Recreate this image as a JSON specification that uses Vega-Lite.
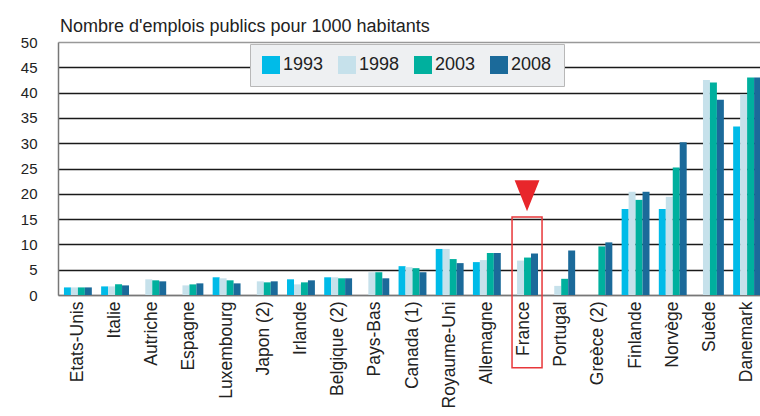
{
  "$schema": "https://vega.github.io/schema/vega-lite/v6.json",
  "autosize": "none",
  "width": 702,
  "height": 253,
  "padding": {"left": 58, "top": 42, "right": 0, "bottom": 121},
  "background": "white",
  "title": {
    "text": "Nombre d'emplois publics pour 1000 habitants",
    "anchor": "start",
    "frame": "group",
    "font": "Liberation Sans",
    "fontSize": 18,
    "fontWeight": "normal",
    "color": "#222222",
    "baseline": "alphabetic",
    "offset": 11,
    "dx": 2,
    "dy": 26
  },
  "config": {
    "view": {"stroke": null},
    "font": "Liberation Sans",
    "axis": {"labelFont": "Liberation Sans", "labelColor": "#222222"},
    "legend": {"labelFont": "Liberation Sans"}
  },
  "datasets": {
    "emplois": [
      {"pays": "Etats-Unis", "annee": "1993", "valeur": 1.5},
      {"pays": "Etats-Unis", "annee": "1998", "valeur": 1.5},
      {"pays": "Etats-Unis", "annee": "2003", "valeur": 1.5},
      {"pays": "Etats-Unis", "annee": "2008", "valeur": 1.5},
      {"pays": "Italie", "annee": "1993", "valeur": 1.7},
      {"pays": "Italie", "annee": "1998", "valeur": 1.7},
      {"pays": "Italie", "annee": "2003", "valeur": 2.1},
      {"pays": "Italie", "annee": "2008", "valeur": 1.9},
      {"pays": "Autriche", "annee": "1998", "valeur": 3.1},
      {"pays": "Autriche", "annee": "2003", "valeur": 2.9},
      {"pays": "Autriche", "annee": "2008", "valeur": 2.7},
      {"pays": "Espagne", "annee": "1998", "valeur": 1.9},
      {"pays": "Espagne", "annee": "2003", "valeur": 2.1},
      {"pays": "Espagne", "annee": "2008", "valeur": 2.3},
      {"pays": "Luxembourg", "annee": "1993", "valeur": 3.5},
      {"pays": "Luxembourg", "annee": "1998", "valeur": 3.3},
      {"pays": "Luxembourg", "annee": "2003", "valeur": 2.9},
      {"pays": "Luxembourg", "annee": "2008", "valeur": 2.3},
      {"pays": "Japon (2)", "annee": "1998", "valeur": 2.7},
      {"pays": "Japon (2)", "annee": "2003", "valeur": 2.5},
      {"pays": "Japon (2)", "annee": "2008", "valeur": 2.7},
      {"pays": "Irlande", "annee": "1993", "valeur": 3.1},
      {"pays": "Irlande", "annee": "1998", "valeur": 2.1},
      {"pays": "Irlande", "annee": "2003", "valeur": 2.5},
      {"pays": "Irlande", "annee": "2008", "valeur": 2.9},
      {"pays": "Belgique (2)", "annee": "1993", "valeur": 3.5},
      {"pays": "Belgique (2)", "annee": "1998", "valeur": 3.5},
      {"pays": "Belgique (2)", "annee": "2003", "valeur": 3.3},
      {"pays": "Belgique (2)", "annee": "2008", "valeur": 3.3},
      {"pays": "Pays-Bas", "annee": "1998", "valeur": 4.5},
      {"pays": "Pays-Bas", "annee": "2003", "valeur": 4.5},
      {"pays": "Pays-Bas", "annee": "2008", "valeur": 3.3},
      {"pays": "Canada (1)", "annee": "1993", "valeur": 5.7},
      {"pays": "Canada (1)", "annee": "1998", "valeur": 5.5},
      {"pays": "Canada (1)", "annee": "2003", "valeur": 5.3},
      {"pays": "Canada (1)", "annee": "2008", "valeur": 4.5},
      {"pays": "Royaume-Uni", "annee": "1993", "valeur": 9.1},
      {"pays": "Royaume-Uni", "annee": "1998", "valeur": 9.1},
      {"pays": "Royaume-Uni", "annee": "2003", "valeur": 7.1},
      {"pays": "Royaume-Uni", "annee": "2008", "valeur": 6.3},
      {"pays": "Allemagne", "annee": "1993", "valeur": 6.5},
      {"pays": "Allemagne", "annee": "1998", "valeur": 6.9},
      {"pays": "Allemagne", "annee": "2003", "valeur": 8.3},
      {"pays": "Allemagne", "annee": "2008", "valeur": 8.3},
      {"pays": "France", "annee": "1998", "valeur": 6.8},
      {"pays": "France", "annee": "2003", "valeur": 7.4},
      {"pays": "France", "annee": "2008", "valeur": 8.2},
      {"pays": "Portugal", "annee": "1998", "valeur": 1.8},
      {"pays": "Portugal", "annee": "2003", "valeur": 3.2},
      {"pays": "Portugal", "annee": "2008", "valeur": 8.8},
      {"pays": "Greèce (2)", "annee": "2003", "valeur": 9.6},
      {"pays": "Greèce (2)", "annee": "2008", "valeur": 10.4},
      {"pays": "Finlande", "annee": "1993", "valeur": 17.0},
      {"pays": "Finlande", "annee": "1998", "valeur": 20.4},
      {"pays": "Finlande", "annee": "2003", "valeur": 18.8},
      {"pays": "Finlande", "annee": "2008", "valeur": 20.4},
      {"pays": "Norvège", "annee": "1993", "valeur": 17.0},
      {"pays": "Norvège", "annee": "1998", "valeur": 19.4},
      {"pays": "Norvège", "annee": "2003", "valeur": 25.2},
      {"pays": "Norvège", "annee": "2008", "valeur": 30.2},
      {"pays": "Suède", "annee": "1998", "valeur": 42.5},
      {"pays": "Suède", "annee": "2003", "valeur": 42.0},
      {"pays": "Suède", "annee": "2008", "valeur": 38.6},
      {"pays": "Danemark", "annee": "1993", "valeur": 33.3},
      {"pays": "Danemark", "annee": "1998", "valeur": 39.6},
      {"pays": "Danemark", "annee": "2003", "valeur": 43.0},
      {"pays": "Danemark", "annee": "2008", "valeur": 43.0}
    ],
    "cadre": [{"pays": "France", "valeur": 15.4, "bas": -14.4}],
    "fleche": [{"pays": "France", "valeur": 19.6}]
  },
  "encoding": {
    "x": {
      "field": "pays",
      "type": "nominal",
      "sort": null,
      "scale": {"paddingInner": 0.25, "paddingOuter": 0.16, "range": [0, 709]},
      "axis": {
        "title": null,
        "labelAngle": -90,
        "labelFontSize": 17.5,
        "labelPadding": 6,
        "labelOverlap": false,
        "labelLimit": 0,
        "ticks": false,
        "domainColor": "#777777",
        "domainWidth": 1.5,
        "labelColor": "#222222"
      }
    },
    "y": {
      "field": "valeur",
      "type": "quantitative",
      "scale": {"domain": [0, 50], "nice": false},
      "axis": {
        "title": null,
        "values": [0, 5, 10, 15, 20, 25, 30, 35, 40, 45, 50],
        "labelFontSize": 15,
        "labelPadding": 21,
        "labelOverlap": false,
        "labelFlush": false,
        "ticks": false,
        "domainColor": "#777777",
        "domainWidth": 1.5,
        "grid": true,
        "gridColor": {
          "condition": {"test": "datum.value == 50 || datum.value == 0", "value": "#999999"},
          "value": "#1a1a1a"
        },
        "gridWidth": 1.3,
        "labelColor": "#222222"
      }
    }
  },
  "layer": [
    {
      "data": {"name": "emplois"},
      "mark": {"type": "bar"},
      "encoding": {
        "xOffset": {
          "field": "annee",
          "type": "nominal",
          "scale": {"paddingInner": 0, "paddingOuter": 0}
        },
        "color": {
          "field": "annee",
          "type": "nominal",
          "scale": {
            "domain": ["1993", "1998", "2003", "2008"],
            "range": ["#00bbe8", "#c6e1eb", "#00b09e", "#1b6a9a"]
          },
          "legend": {
            "title": null,
            "orient": "none",
            "legendX": 192,
            "legendY": 2,
            "direction": "horizontal",
            "symbolType": "square",
            "symbolSize": 324,
            "symbolStrokeWidth": 0,
            "labelFontSize": 18,
            "labelColor": "#222222",
            "labelOffset": 3,
            "columnPadding": 14,
            "padding": 12,
            "fillColor": "#eef0f2",
            "strokeColor": "#b8b8b8"
          }
        }
      }
    },
    {
      "data": {"name": "cadre"},
      "mark": {
        "type": "bar",
        "filled": false,
        "stroke": "#e8373a",
        "strokeWidth": 1.5,
        "width": 30,
        "xOffset": 3
      },
      "encoding": {
        "y2": {"field": "bas"}
      }
    },
    {
      "data": {"name": "fleche"},
      "mark": {
        "type": "point",
        "shape": "M-0.8,-1L0.8,-1L0,1Z",
        "size": 961,
        "filled": true,
        "fill": "#e8262b",
        "strokeWidth": 0,
        "opacity": 1,
        "xOffset": 3
      }
    }
  ]
}
